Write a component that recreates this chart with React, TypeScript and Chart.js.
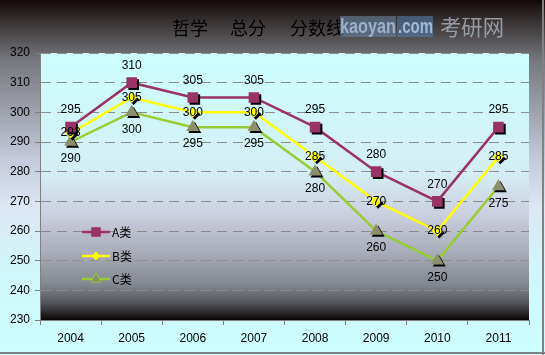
import React, { useEffect, useRef } from 'react';
import { Chart, registerables } from 'chart.js';
import { drawPoint } from 'chart.js/helpers';

Chart.register(...registerables);

const categories = ['2004', '2005', '2006', '2007', '2008', '2009', '2010', '2011'];
const seriesA = [295, 310, 305, 305, 295, 280, 270, 295];
const seriesB = [293, 305, 300, 300, 285, 270, 260, 285];
const seriesC = [290, 300, 295, 295, 280, 260, 250, 275];
const seriesNames = ['A类', 'B类', 'C类'];
const titleParts = ['哲学', '总分', '分数线'];
const watermarkParts = ['kaoyan', '.com', '考研网'];
const yMin = 230;
const yMax = 320;
const yStep = 10;

const lineColors = ['#993366', '#ffff00', '#99cc33'];
const markerFills = ['#993366', '#ffff00', '#8c8f6c'];
const markerBorders = ['#993366', '#ffff00', '#8c8f6c'];
const markerStyles = ['rect', 'rectRot', 'triangle'];
const markerRadii = [7.5, 5.5, 7.5];
const labelOffsets = [-17, 0, 17];
const NUM_FONT = '12px "Liberation Sans", Arial, sans-serif';
const CJK_FONT = '"Noto Sans CJK SC", sans-serif';

const customPlugin = {
  id: 'customDeco',
  beforeDraw(chart: any) {
    const { ctx, width, height, chartArea } = chart;
    ctx.save();
    const g = ctx.createLinearGradient(0, 0, 0, height);
    g.addColorStop(0, '#140808');
    g.addColorStop(0.06, '#383232');
    g.addColorStop(0.17, '#76787e');
    g.addColorStop(0.3, '#9a9ea8');
    g.addColorStop(0.45, '#c4cadb');
    g.addColorStop(0.58, '#dde6f4');
    g.addColorStop(0.75, '#d0f6fa');
    g.addColorStop(1, '#ccffff');
    ctx.fillStyle = g;
    ctx.fillRect(0, 0, width, height);
    const { left, top, right, bottom } = chartArea;
    const pg = ctx.createLinearGradient(0, top, 0, bottom);
    pg.addColorStop(0, '#ccffff');
    pg.addColorStop(0.45, '#d4eef4');
    pg.addColorStop(0.6, '#ccd0e0');
    pg.addColorStop(0.75, '#a8acb8');
    pg.addColorStop(0.87, '#82868e');
    pg.addColorStop(0.94, '#505058');
    pg.addColorStop(1, '#0c0404');
    ctx.fillStyle = pg;
    ctx.fillRect(left, top, right - left, bottom - top);
    ctx.fillStyle = '#000000';
    ctx.font = '18px ' + CJK_FONT;
    ctx.textBaseline = 'middle';
    ctx.textAlign = 'left';
    const tx = [172, 230, 290];
    titleParts.forEach((t, i) => ctx.fillText(t, tx[i], 28));
    ctx.fillStyle = 'rgba(105,130,160,0.6)';
    ctx.fillRect(340, 16, 56, 21);
    ctx.fillStyle = 'rgba(85,130,175,0.55)';
    ctx.fillRect(397, 16, 36, 21);
    ctx.font = 'bold 20px "Liberation Sans", Arial, sans-serif';
    ctx.fillStyle = 'rgba(160,185,215,0.9)';
    ctx.fillText(watermarkParts[0], 340, 27, 56);
    ctx.fillStyle = 'rgba(170,195,225,0.9)';
    ctx.fillText(watermarkParts[1], 398, 27, 35);
    ctx.font = '22px ' + CJK_FONT;
    ctx.fillStyle = 'rgba(160,166,176,0.9)';
    ctx.fillText(watermarkParts[2], 440, 27, 64);
    ctx.restore();
  },
  beforeDatasetDraw(chart: any, args: any) {
    if (args.index >= 3) {
      const ctx = chart.ctx;
      ctx.save();
      ctx.shadowColor = 'rgba(0,0,0,1)';
      ctx.shadowOffsetX = 2;
      ctx.shadowOffsetY = 2;
      ctx.shadowBlur = 0;
    }
  },
  afterDatasetDraw(chart: any, args: any) {
    if (args.index >= 3) {
      chart.ctx.restore();
    }
  },
  afterDatasetsDraw(chart: any) {
    const { ctx } = chart;
    ctx.save();
    ctx.font = NUM_FONT;
    ctx.fillStyle = '#000000';
    ctx.textAlign = 'center';
    ctx.textBaseline = 'middle';
    for (let s = 0; s < 3; s++) {
      const meta = chart.getDatasetMeta(3 + s);
      const data = chart.data.datasets[3 + s].data as number[];
      meta.data.forEach((el: any, i: number) => {
        ctx.fillText(String(data[i]), el.x, el.y + labelOffsets[s]);
      });
    }
    const ly = [232, 256, 279];
    for (let s = 0; s < 3; s++) {
      ctx.strokeStyle = lineColors[s];
      ctx.lineWidth = 2.5;
      ctx.beginPath();
      ctx.moveTo(82, ly[s]);
      ctx.lineTo(110, ly[s]);
      ctx.stroke();
      ctx.fillStyle = markerFills[s];
      ctx.strokeStyle = s === 2 ? '#99cc33' : markerBorders[s];
      ctx.lineWidth = 1;
      drawPoint(ctx, { pointStyle: markerStyles[s] as any, radius: markerRadii[s] - 1.5, rotation: 0, borderWidth: 1 }, 96, ly[s]);
      ctx.fillStyle = '#000000';
      ctx.font = '12px ' + CJK_FONT;
      ctx.textAlign = 'left';
      ctx.fillText(seriesNames[s], 112, ly[s]);
    }
    ctx.restore();
  },
  afterDraw(chart: any) {
    const { ctx, width, height } = chart;
    ctx.save();
    ctx.fillStyle = '#7f8282';
    ctx.fillRect(width - 3, 0, 2, height);
    ctx.fillRect(0, height - 3, width, 2);
    ctx.restore();
  },
};

export default function App() {
  const ref = useRef<HTMLCanvasElement | null>(null);
  useEffect(() => {
    if (!ref.current) return;
    const series = [seriesA, seriesB, seriesC];
    const lineSets = series.map((d, i) => ({
      label: seriesNames[i],
      data: d,
      borderColor: lineColors[i],
      borderWidth: 2.5,
      pointRadius: 0,
      fill: false,
      tension: 0,
      order: 1,
    }));
    const pointSets = series.map((d, i) => ({
      label: seriesNames[i] + '-pts',
      data: d,
      showLine: false,
      pointStyle: markerStyles[i],
      pointRadius: markerRadii[i],
      pointBackgroundColor: markerFills[i],
      pointBorderColor: markerBorders[i],
      pointBorderWidth: 0,
      order: 0,
    }));
    const chart = new Chart(ref.current, {
      type: 'line',
      data: { labels: categories, datasets: [...lineSets, ...pointSets] as any },
      options: {
        animation: false,
        responsive: false,
        devicePixelRatio: 1,
        layout: { padding: { top: 53, right: 16, left: 0, bottom: 0 } },
        plugins: {
          legend: { display: false },
          title: { display: false },
          tooltip: { enabled: false },
        },
        scales: {
          x: {
            offset: true,
            afterFit: (scale: any) => {
              scale.height = 35;
            },
            grid: {
              offset: true,
              drawOnChartArea: false,
              drawTicks: true,
              tickLength: 5,
              color: '#808080',
            },
            border: { display: true, color: '#808080', width: 1 },
            ticks: {
              color: '#000000',
              font: { family: '"Liberation Sans", Arial, sans-serif', size: 12 },
              padding: 6,
              maxRotation: 0,
              autoSkip: false,
            },
          },
          y: {
            min: yMin,
            max: yMax,
            afterFit: (scale: any) => {
              scale.width = 40;
            },
            grid: {
              drawOnChartArea: true,
              drawTicks: true,
              tickLength: 5,
              color: '#8c8c8c',
              tickColor: '#808080',
              tickBorderDash: [],
            },
            border: { display: true, color: '#808080', width: 1, dash: [10, 6] },
            ticks: {
              stepSize: yStep,
              color: '#000000',
              font: { family: '"Liberation Sans", Arial, sans-serif', size: 12 },
              padding: 5,
            },
          },
        },
      },
      plugins: [customPlugin],
    });
    return () => chart.destroy();
  }, []);
  return (
    <div style={{ position: 'absolute', left: 0, top: 0, width: 545, height: 355 }}>
      <canvas ref={ref} width={545} height={355} style={{ display: 'block', width: 545, height: 355 }} />
    </div>
  );
}
